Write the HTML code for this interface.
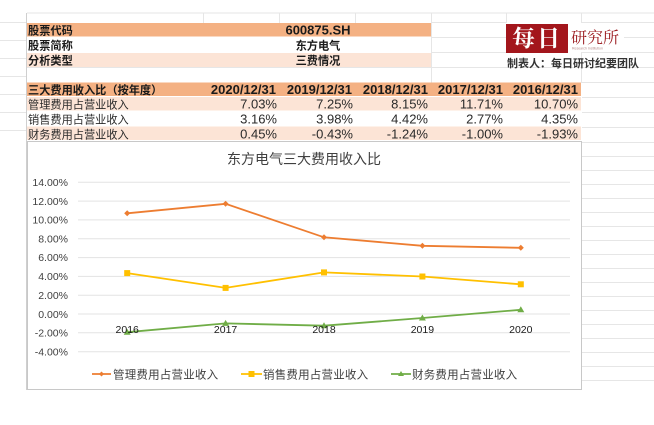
<!DOCTYPE html>
<html><head><meta charset="utf-8">
<style>
html,body{margin:0;padding:0;background:#fff;}
svg{display:block;}
.cj{font-family:"Liberation Sans","Noto Sans CJK SC",sans-serif;}
</style></head>
<body>
<svg width="654" height="425" viewBox="0 0 654 425" xmlns="http://www.w3.org/2000/svg" class="cj">
<!-- spreadsheet faint grid -->
<g stroke="#e6e6e6" stroke-width="1">
<line x1="27" y1="13" x2="654" y2="13"/>
<line x1="0" y1="22.5" x2="27" y2="22.5"/>
<line x1="582" y1="22.5" x2="654" y2="22.5"/>
<line x1="582" y1="37.5" x2="654" y2="37.5"/>
<line x1="582" y1="52.5" x2="654" y2="52.5"/>
<line x1="582" y1="67.5" x2="654" y2="67.5"/>
<line x1="582" y1="82.5" x2="654" y2="82.5"/>
<line x1="582" y1="97.5" x2="654" y2="97.5"/>
<line x1="582" y1="112.5" x2="654" y2="112.5"/>
<line x1="582" y1="127.5" x2="654" y2="127.5"/>
<line x1="582" y1="142.5" x2="654" y2="142.5"/>
<line x1="582" y1="156.5" x2="654" y2="156.5"/>
<line x1="582" y1="170.5" x2="654" y2="170.5"/>
<line x1="582" y1="184.5" x2="654" y2="184.5"/>
<line x1="582" y1="198.5" x2="654" y2="198.5"/>
<line x1="582" y1="212.5" x2="654" y2="212.5"/>
<line x1="582" y1="226.5" x2="654" y2="226.5"/>
<line x1="582" y1="240.5" x2="654" y2="240.5"/>
<line x1="582" y1="254.5" x2="654" y2="254.5"/>
<line x1="582" y1="268.5" x2="654" y2="268.5"/>
<line x1="582" y1="282.5" x2="654" y2="282.5"/>
<line x1="582" y1="296.5" x2="654" y2="296.5"/>
<line x1="582" y1="310.5" x2="654" y2="310.5"/>
<line x1="582" y1="324.5" x2="654" y2="324.5"/>
<line x1="582" y1="338.5" x2="654" y2="338.5"/>
<line x1="582" y1="352.5" x2="654" y2="352.5"/>
<line x1="582" y1="366.5" x2="654" y2="366.5"/>
<line x1="582" y1="380.5" x2="654" y2="380.5"/>
<line x1="203.5" y1="13" x2="203.5" y2="23"/>
<line x1="279.5" y1="13" x2="279.5" y2="23"/>
<line x1="355.5" y1="13" x2="355.5" y2="23"/>
<line x1="431.5" y1="13" x2="431.5" y2="83"/>
<line x1="506.5" y1="13" x2="506.5" y2="23"/>
<line x1="581.5" y1="13" x2="581.5" y2="83"/>
<line x1="431" y1="22.5" x2="506" y2="22.5"/>
<line x1="431" y1="37.5" x2="506" y2="37.5"/>
<line x1="431" y1="52.5" x2="506" y2="52.5"/>
<line x1="27" y1="67.5" x2="581" y2="67.5"/>
<line x1="0" y1="40.5" x2="26" y2="40.5"/>
<line x1="0" y1="58.5" x2="26" y2="58.5"/>
<line x1="0" y1="76.5" x2="26" y2="76.5"/>
<line x1="0" y1="94.5" x2="26" y2="94.5"/>
<line x1="0" y1="112.5" x2="26" y2="112.5"/>
<line x1="0" y1="130.5" x2="26" y2="130.5"/>
</g>
<line x1="26.5" y1="13" x2="26.5" y2="390" stroke="#cfcfcf" stroke-width="1"/>

<!-- top info bands -->
<rect x="27" y="23" width="404" height="13.5" fill="#f4b183"/>
<rect x="27" y="53" width="404" height="14" fill="#fce4d6"/>
<!-- table header and rows -->
<rect x="27" y="82.5" width="554" height="13.5" fill="#f4b183"/>
<rect x="27" y="97" width="554" height="13.5" fill="#fce4d6"/>
<rect x="27" y="126.5" width="554" height="13.5" fill="#fce4d6"/>
<line x1="27" y1="141.5" x2="581" y2="141.5" stroke="#c8c8c8"/>

<g font-size="11.2" font-weight="bold" fill="#1a1a1a">
<text x="28" y="34.5">股票代码</text>
<text x="28" y="49.5">股票简称</text>
<text x="28" y="64.5">分析类型</text>
<text x="28" y="94">三大费用收入比（按年度）</text>
<text x="318" y="34.5" text-anchor="middle" font-size="13">600875.SH</text>
<text x="318" y="49.5" text-anchor="middle">东方电气</text>
<text x="318" y="64.5" text-anchor="middle">三费情况</text>
<g font-size="13" text-anchor="end">
<text x="276" y="94">2020/12/31</text>
<text x="352" y="94">2019/12/31</text>
<text x="428" y="94">2018/12/31</text>
<text x="503" y="94">2017/12/31</text>
<text x="578" y="94">2016/12/31</text>
</g>
</g>
<g font-size="11.2" fill="#2a2a2a">
<text x="28" y="108.5">管理费用占营业收入</text>
<text x="28" y="123.5">销售费用占营业收入</text>
<text x="28" y="138.5">财务费用占营业收入</text>
</g>
<g font-size="13" fill="#2a2a2a" text-anchor="end">
<text x="277" y="108.5">7.03%</text><text x="353" y="108.5">7.25%</text><text x="428" y="108.5">8.15%</text><text x="503" y="108.5">11.71%</text><text x="578" y="108.5">10.70%</text>
<text x="277" y="123.5">3.16%</text><text x="353" y="123.5">3.98%</text><text x="428" y="123.5">4.42%</text><text x="503" y="123.5">2.77%</text><text x="578" y="123.5">4.35%</text>
<text x="277" y="138.5">0.45%</text><text x="353" y="138.5">-0.43%</text><text x="428" y="138.5">-1.24%</text><text x="503" y="138.5">-1.00%</text><text x="578" y="138.5">-1.93%</text>
</g>

<!-- logo -->
<rect x="568" y="23" width="56" height="29" fill="#ffffff"/>
<rect x="506" y="24" width="62" height="29" fill="#a3161c"/>
<text x="537" y="46" text-anchor="middle" font-size="23" font-weight="bold" fill="#ffffff" font-family="'Noto Serif CJK SC','Liberation Serif',serif" letter-spacing="2">每日</text>
<text x="571" y="43" font-size="16" fill="#9b1a1f" font-family="'Noto Serif CJK SC','Liberation Serif',serif">研究所</text>
<text x="572" y="49.5" font-size="3.5" fill="#b58a8a" font-family="'Liberation Sans',sans-serif">Research   Institution</text>
<text x="507" y="67" font-size="11" font-weight="bold" fill="#333">制表人：每日研讨纪要团队</text>

<!-- chart box -->
<rect x="27.5" y="141.5" width="554" height="248" fill="#ffffff" stroke="#c8c8c8" stroke-width="1"/>
<text x="304" y="164" text-anchor="middle" font-size="14" fill="#404040">东方电气三大费用收入比</text>

<!-- gridlines -->
<g stroke="#e3e3e3" stroke-width="1">
<line x1="78" y1="182.3" x2="570" y2="182.3"/>
<line x1="78" y1="201.1" x2="570" y2="201.1"/>
<line x1="78" y1="219.9" x2="570" y2="219.9"/>
<line x1="78" y1="238.8" x2="570" y2="238.8"/>
<line x1="78" y1="257.6" x2="570" y2="257.6"/>
<line x1="78" y1="276.4" x2="570" y2="276.4"/>
<line x1="78" y1="295.2" x2="570" y2="295.2"/>
<line x1="78" y1="314" x2="570" y2="314"/>
<line x1="78" y1="332.8" x2="570" y2="332.8"/>
<line x1="78" y1="351.7" x2="570" y2="351.7"/>
</g>
<g font-size="10.5" fill="#404040" text-anchor="end">
<text x="68" y="186">14.00%</text>
<text x="68" y="205">12.00%</text>
<text x="68" y="223.5">10.00%</text>
<text x="68" y="242.5">8.00%</text>
<text x="68" y="261">6.00%</text>
<text x="68" y="280">4.00%</text>
<text x="68" y="299">2.00%</text>
<text x="68" y="318">0.00%</text>
<text x="68" y="336.5">-2.00%</text>
<text x="68" y="355.5">-4.00%</text>
</g>

<!-- series -->
<polyline fill="none" stroke="#ed7d31" stroke-width="1.8" points="127.2,213.3 225.6,203.8 324,237.3 422.4,245.8 520.8,247.8"/>
<g fill="#ed7d31">
<polygon points="127.2,210.3 130.2,213.3 127.2,216.3 124.2,213.3"/>
<polygon points="225.6,200.8 228.6,203.8 225.6,206.8 222.6,203.8"/>
<polygon points="324,234.3 327,237.3 324,240.3 321,237.3"/>
<polygon points="422.4,242.8 425.4,245.8 422.4,248.8 419.4,245.8"/>
<polygon points="520.8,244.8 523.8,247.8 520.8,250.8 517.8,247.8"/>
</g>
<polyline fill="none" stroke="#ffc000" stroke-width="1.8" points="127.2,273.1 225.6,287.9 324,272.4 422.4,276.5 520.8,284.3"/>
<g fill="#ffc000">
<rect x="124.2" y="270.1" width="6" height="6"/>
<rect x="222.6" y="284.9" width="6" height="6"/>
<rect x="321" y="269.4" width="6" height="6"/>
<rect x="419.4" y="273.5" width="6" height="6"/>
<rect x="517.8" y="281.3" width="6" height="6"/>
</g>
<polyline fill="none" stroke="#70ad47" stroke-width="1.8" points="127.2,332.2 225.6,323.4 324,325.7 422.4,318 520.8,309.8"/>
<g fill="#70ad47">
<polygon points="127.2,328.7 130.7,334.7 123.7,334.7"/>
<polygon points="225.6,319.9 229.1,325.9 222.1,325.9"/>
<polygon points="324,322.2 327.5,328.2 320.5,328.2"/>
<polygon points="422.4,314.5 425.9,320.5 418.9,320.5"/>
<polygon points="520.8,306.3 524.3,312.3 517.3,312.3"/>
</g>

<g font-size="10.5" fill="#1a1a1a" text-anchor="middle">
<text x="127.2" y="333">2016</text>
<text x="225.6" y="333">2017</text>
<text x="324" y="333">2018</text>
<text x="422.4" y="333">2019</text>
<text x="520.8" y="333">2020</text>
</g>

<!-- legend -->
<g font-size="11.5" fill="#404040" letter-spacing="0.2">
<line x1="92" y1="374" x2="111" y2="374" stroke="#ed7d31" stroke-width="1.8"/>
<polygon points="101.5,371.5 104,374 101.5,376.5 99,374" fill="#ed7d31"/>
<text x="113" y="378.5">管理费用占营业收入</text>
<line x1="241" y1="374" x2="262" y2="374" stroke="#ffc000" stroke-width="1.8"/>
<rect x="248.5" y="371" width="6" height="6" fill="#ffc000"/>
<text x="263" y="378.5">销售费用占营业收入</text>
<line x1="391" y1="374" x2="411" y2="374" stroke="#70ad47" stroke-width="1.8"/>
<polygon points="401,371 404,376 398,376" fill="#70ad47"/>
<text x="412" y="378.5">财务费用占营业收入</text>
</g>
</svg>
</body></html>
